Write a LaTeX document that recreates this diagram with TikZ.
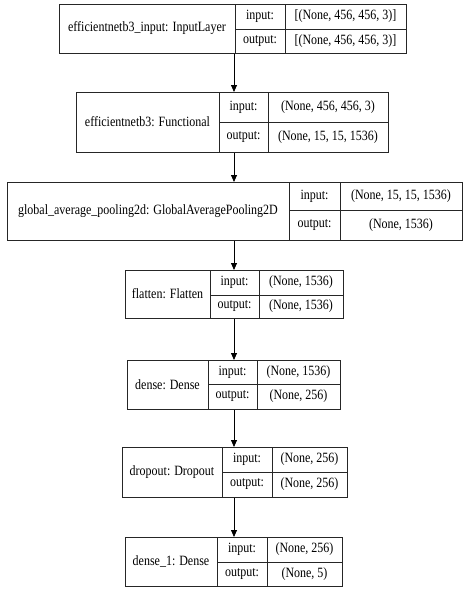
\documentclass[tikz,border=0pt]{standalone}
\usepackage{graphicx}
\usepackage{fontspec}
\setmainfont{Liberation Serif}
\usetikzlibrary{arrows.meta}
\newcommand\sy[1]{\scalebox{1}[1.18]{#1}}
\tikzset{
  box/.style={draw=black!85, line width=0.8pt, inner sep=0pt},
  cell/.style={draw=black!85, line width=0.8pt},
  txt/.style={font=\fontsize{12}{14}\selectfont, inner sep=0pt},
  arr/.style={draw=black, line width=0.8pt, -{Triangle[length=7pt,width=6pt]}}
}
% #1 name, #2 left, #3 top, #4 right, #5 bottom, #6 div1, #7 div2, #8 mid, #9 label
\newcommand\layerbox[9]{%
  \node[box, anchor=north west, minimum width={(#4-#2)*1pt}, minimum height={(#5-#3)*1pt}] (#1) at (#2,#3) {};
  \draw[cell] (#6,#3) -- (#6,#5) (#7,#3) -- (#7,#5) (#6,#8) -- (#4,#8);
  \node[txt] (#1-lab) at ({(#2+#6)/2},{(#3+#5)/2}) {\sy{#9}};
  \node[txt] (#1-il) at ({(#6+#7)/2},{(#3+#8)/2}) {\sy{input:}};
  \node[txt] (#1-ol) at ({(#6+#7)/2},{(#8+#5)/2}) {\sy{output:}};
  \layerboxvals{#1}{#7}{#4}{#3}{#8}{#5}%
}
\newcommand\layerboxvals[6]{%
  \node[txt] (#1-iv) at ({(#2+#3)/2},{(#4+#5)/2}) {\sy{\csname invals#1\endcsname}};
  \node[txt] (#1-ov) at ({(#2+#3)/2},{(#5+#6)/2}) {\sy{\csname outvals#1\endcsname}};
}
\expandafter\def\csname invalsA\endcsname{[(None, 456, 456, 3)]}
\expandafter\def\csname outvalsA\endcsname{[(None, 456, 456, 3)]}
\expandafter\def\csname invalsB\endcsname{(None, 456, 456, 3)}
\expandafter\def\csname outvalsB\endcsname{(None, 15, 15, 1536)}
\expandafter\def\csname invalsC\endcsname{(None, 15, 15, 1536)}
\expandafter\def\csname outvalsC\endcsname{(None, 1536)}
\expandafter\def\csname invalsD\endcsname{(None, 1536)}
\expandafter\def\csname outvalsD\endcsname{(None, 1536)}
\expandafter\def\csname invalsE\endcsname{(None, 1536)}
\expandafter\def\csname outvalsE\endcsname{(None, 256)}
\expandafter\def\csname invalsF\endcsname{(None, 256)}
\expandafter\def\csname outvalsF\endcsname{(None, 256)}
\expandafter\def\csname invalsG\endcsname{(None, 256)}
\expandafter\def\csname outvalsG\endcsname{(None, 5)}
\begin{document}
\begin{tikzpicture}[x=1pt,y=-1pt]
  \useasboundingbox (0,0) rectangle (468,592);
  \layerbox{A}{59}{4}{406}{53}{235}{285}{29}{efficientnetb3\_input: InputLayer}
  \layerbox{B}{76}{92}{388}{152}{219}{268}{122}{efficientnetb3: Functional}
  \layerbox{C}{7}{182}{462}{240}{289}{340}{210}{global\_average\_pooling2d: GlobalAveragePooling2D}
  \layerbox{D}{125}{270}{343}{318}{210}{259}{295}{flatten: Flatten}
  \layerbox{E}{127}{360}{340}{409}{208}{257}{384}{dense: Dense}
  \layerbox{F}{122}{447}{347}{497}{222}{272}{472}{dropout: Dropout}
  \layerbox{G}{125}{537}{342}{586}{217}{267}{562}{dense\_1: Dense}
  \coordinate (ax) at (234,0);
  \draw[arr] (ax |- A.south) -- (ax |- B.north);
  \draw[arr] (ax |- B.south) -- (ax |- C.north);
  \draw[arr] (ax |- C.south) -- (ax |- D.north);
  \draw[arr] (ax |- D.south) -- (ax |- E.north);
  \draw[arr] (ax |- E.south) -- (ax |- F.north);
  \draw[arr] (ax |- F.south) -- (ax |- G.north);
\end{tikzpicture}
\end{document}
